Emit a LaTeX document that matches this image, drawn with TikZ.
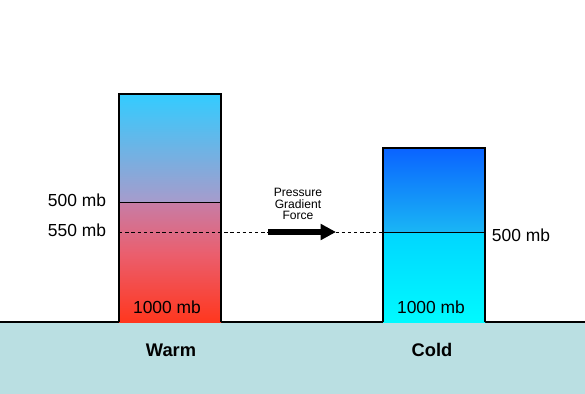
\documentclass[tikz,border=0pt]{standalone}
\usepackage{fontspec}
\setmainfont{Liberation Sans}
\usetikzlibrary{arrows.meta}

\pgfdeclareverticalshading{warmair}{100bp}{rgb(0bp)=(1,0.216,0.118); rgb(25bp)=(1,0.216,0.118);
    rgb(40bp)=(0.92,0.37,0.43); rgb(51.2bp)=(0.78,0.49,0.65); rgb(51.4bp)=(0.65,0.61,0.80);
    rgb(75bp)=(0.20,0.80,1); rgb(100bp)=(0.20,0.80,1)}
\pgfdeclareverticalshading{coldair}{100bp}{rgb(0bp)=(0,0.98,1); rgb(25bp)=(0,0.98,1);
    rgb(50.8bp)=(0,0.84,1); rgb(51bp)=(0.10,0.71,0.96);
    rgb(75bp)=(0.04,0.39,1); rgb(100bp)=(0.04,0.39,1)}
\definecolor{groundcol}{RGB}{186,223,226}

\begin{document}
\begin{tikzpicture}[x=0.025cm,y=-0.025cm,
    lbl/.style={font=\fontsize{12.4}{14}\selectfont},
    big/.style={font=\fontsize{13}{15}\selectfont\bfseries},
    small/.style={font=\fontsize{8.6}{8}\selectfont,align=center},
    colline/.style={line width=0.8pt}]
    \useasboundingbox (0,0) rectangle (585,394);
    % ground
    \fill[groundcol] (0,322) rectangle (585,394);
    \draw[line width=0.8pt] (0,322) -- (585,322);
    % columns
    \shade[shading=warmair] (119,94) rectangle (221,322);
    \shade[shading=coldair] (383,148) rectangle (485,322);
    \draw[colline] (119,322) |- (221,94) -- (221,322);
    \draw[colline] (383,322) |- (485,148) -- (485,322);
    \coordinate (w500a) at (119,202);
    \coordinate (w500b) at (221,202);
    \coordinate (w550) at (119,232);
    \coordinate (c500a) at (383,232);
    \coordinate (c500b) at (485,232);
    \draw[line width=0.7pt] (w500a) -- (w500b);
    \draw[line width=0.7pt] (c500a) -- (c500b);
    \draw[dash pattern=on 2.4pt off 2pt] (w550) -- (c500a);
    % force arrow
    \coordinate (pgfA) at (268,232);
    \coordinate (pgfB) at (336,232);
    \draw[line width=3.6pt,-{Triangle[length=11pt,width=11pt]}] (pgfA) -- (pgfB);
    \node[small] (pgf) at (298,204) {Pressure\\Gradient\\Force};
    % labels
    \node[lbl] (l500) at (77,200) {500 mb};
    \node[lbl] (l550) at (77,230) {550 mb};
    \node[lbl] (r500) at (521,235) {500 mb};
    \node[lbl] (wbot) at (167,307) {1000 mb};
    \node[lbl] (cbot) at (431,307) {1000 mb};
    \node[big] (warm) at (171,350) {Warm};
    \node[big] (cold) at (432,350) {Cold};
\end{tikzpicture}
\end{document}
